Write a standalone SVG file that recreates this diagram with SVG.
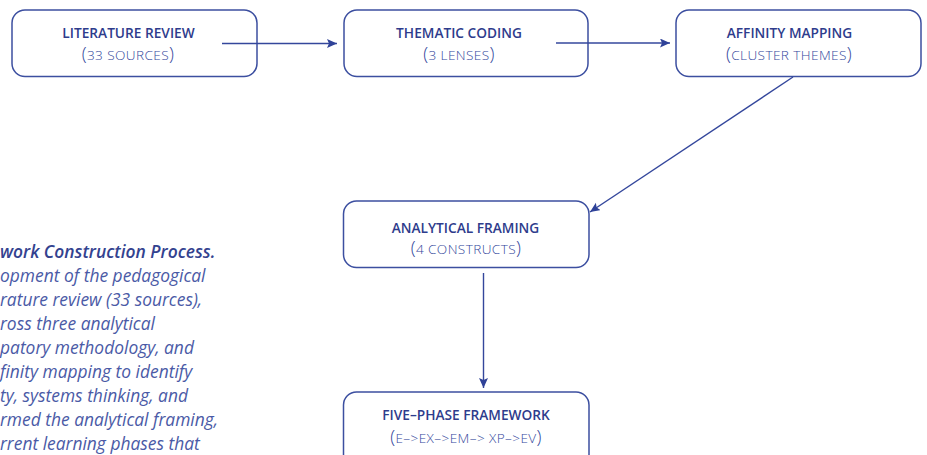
<svg xmlns="http://www.w3.org/2000/svg" width="927" height="455" viewBox="0 0 927 455">
  <style>
    .box { fill: #ffffff; stroke: #3c4fa0; stroke-width: 1.5; }
    .title { font-family: "Open Sans", "Noto Sans", sans-serif; font-size: 13.7px; font-weight: 600; fill: #2e3c8c; text-anchor: middle; }
    .sub { font-family: "Open Sans", "Noto Sans", sans-serif; font-size: 13.6px; font-weight: 300; fill: #34479c; text-anchor: middle; letter-spacing: 0.4px; }
    .par { font-size: 18px; font-weight: 300; }
    .link { fill: none; stroke: #34479c; stroke-width: 1.4; }
    .cap { font-family: "Open Sans", "Noto Sans", sans-serif; font-size: 17.4px; font-style: italic; fill: #4a5aa6; }
    .cap-b { font-weight: 600; fill: #33428f; }
  </style>
  <defs>
    <marker id="arrow" markerUnits="userSpaceOnUse" markerWidth="12" markerHeight="10" refX="10" refY="4.5" orient="auto">
      <path d="M0,0 L10,4.5 L0,9 L2,4.5 z" fill="#2f4298"/>
    </marker>
  </defs>

  <!-- caption text along the left edge -->
  <g id="caption">
    <text class="cap cap-b" x="0" y="258">work Construction Process.</text>
    <text class="cap" x="0" y="282">opment of the pedagogical</text>
    <text class="cap" x="0" y="306">rature review (33 sources),</text>
    <text class="cap" x="0" y="330">ross three analytical</text>
    <text class="cap" x="0" y="354">patory methodology, and</text>
    <text class="cap" x="0" y="378">finity mapping to identify</text>
    <text class="cap" x="0" y="402">ty, systems thinking, and</text>
    <text class="cap" x="0" y="426">rmed the analytical framing,</text>
    <text class="cap" x="0" y="450">rrent learning phases that</text>
  </g>

  <g id="literature-review">
    <rect class="box" x="12" y="10" width="245" height="66.5" rx="13"/>
    <text class="title" x="128.5" y="37.7">LITERATURE REVIEW</text>
    <text class="sub" x="128" y="59.5"><tspan class="par">(</tspan>33 SOURCES<tspan class="par">)</tspan></text>
  </g>

  <g id="thematic-coding">
    <rect class="box" x="344" y="10" width="244" height="66.5" rx="13"/>
    <text class="title" x="459" y="38">THEMATIC CODING</text>
    <text class="sub" x="459" y="59.5"><tspan class="par">(</tspan>3 LENSES<tspan class="par">)</tspan></text>
  </g>

  <g id="affinity-mapping">
    <rect class="box" x="676" y="10" width="245" height="66.5" rx="13"/>
    <text class="title" x="789.5" y="37.7">AFFINITY MAPPING</text>
    <text class="sub" x="789" y="59.5"><tspan class="par">(</tspan>CLUSTER THEMES<tspan class="par">)</tspan></text>
  </g>

  <g id="analytical-framing">
    <rect class="box" x="343.5" y="201" width="245.5" height="66.5" rx="13"/>
    <text class="title" x="465.5" y="232.5">ANALYTICAL FRAMING</text>
    <text class="sub" x="466" y="254"><tspan class="par">(</tspan>4 CONSTRUCTS<tspan class="par">)</tspan></text>
  </g>

  <g id="five-phase-framework">
    <rect class="box" x="343.5" y="392" width="245.5" height="80" rx="13"/>
    <text class="title" x="466" y="420">FIVE–PHASE FRAMEWORK</text>
    <text class="sub" x="466" y="443.3"><tspan class="par">(</tspan>E–&gt;EX–&gt;EM–&gt; XP–&gt;EV<tspan class="par">)</tspan></text>
  </g>

  <!-- connectors sit above the boxes, so their tails show inside them -->
  <g id="connectors">
    <line class="link" x1="222" y1="43.5" x2="337" y2="43.5" marker-end="url(#arrow)"/>
    <line class="link" x1="556" y1="43" x2="670" y2="43" marker-end="url(#arrow)"/>
    <line class="link" x1="793" y1="77" x2="590" y2="212" marker-end="url(#arrow)"/>
    <line class="link" x1="483.5" y1="273" x2="483.5" y2="388" marker-end="url(#arrow)"/>
  </g>
</svg>
